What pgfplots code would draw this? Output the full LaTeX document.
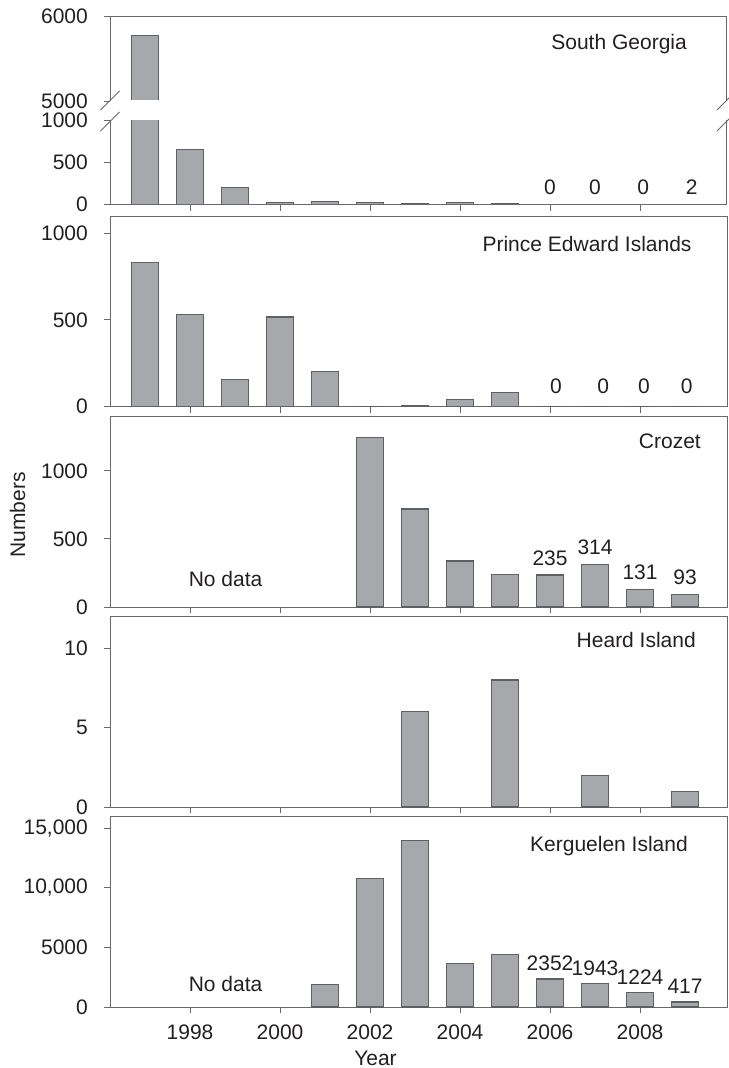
\documentclass[border=0pt]{standalone}
\usepackage{fontspec}
\setmainfont{Liberation Sans}
\usepackage{pgfplots}
\pgfplotsset{compat=1.18}
\definecolor{barfill}{RGB}{166,168,171}
\definecolor{baredge}{RGB}{95,96,99}
\definecolor{axgray}{RGB}{105,105,105}
\definecolor{txt}{RGB}{35,31,32}
\newcommand{\ff}{\fontsize{21bp}{25bp}\selectfont}
\pgfplotsset{
  panel/.style={
    scale only axis, width=617bp, anchor=south west,
    xmin=1996.222, xmax=2009.933,
    ymin=0,
    axis line style={draw=axgray, line width=1bp},
    every tick/.style={draw=axgray, line width=1bp},
    tick align=outside, major tick length=6bp,
    tick pos=left,
    scaled y ticks=false, scaled x ticks=false,
    xtick={1998,2000,2002,2004,2006,2008}, xticklabels={},
    font=\ff,
    /pgf/number format/assume math mode=true,
    every tick label/.append style={text=txt, font=\ff},
    yticklabel style={anchor=east, inner sep=0pt, xshift=-16bp},
    xticklabel style={anchor=north, inner sep=0pt, yshift=-12bp},
    clip=true,
  },
  bars/.style={ybar, bar shift=0pt, bar width=27bp, fill=barfill, draw=baredge, line width=1.2bp},
  labs/.style={only marks, mark=none, draw=none, nodes near coords, point meta=explicit symbolic,
    every node near coord/.style={font=\ff, text=txt, inner sep=0pt, anchor=south, yshift=#1}},
}
\begin{document}
\begin{tikzpicture}
% ---- South Georgia (broken axis) ----
\begin{axis}[panel, at={(110bp,-101bp)}, height=85bp, ymin=5000, ymax=6000,
  ytick={5000,6000}, yticklabels={5000,6000}, xtick=\empty, axis line style={draw=none}]
\addplot[bars] coordinates {(1997,5775)};
\end{axis}
\begin{axis}[panel, at={(110bp,-204.5bp)}, height=84.5bp, ymin=0, ymax=1000,
  ytick={0,500,1000}, yticklabels={0,500,1000}, axis line style={draw=none}]
\addplot[bars] coordinates {(1997,5775) (1998,650) (1999,205) (2000,24) (2001,35) (2002,24) (2003,10) (2004,24) (2005,15) (2006,0) (2007,0) (2008,0) (2009,2)};
\addplot[labs=10bp] coordinates {(2006,0) [0] (2007,0) [0] (2008.07,0) [0] (2009.15,2) [2]};
\end{axis}
\fill[white] (111bp,-100.2bp) rectangle (725bp,-119.6bp);
\draw[axgray, line width=1bp] (110bp,-101bp) -- (110bp,-16bp) -- (726.5bp,-16bp) -- (726.5bp,-101bp);
\draw[axgray, line width=1bp] (110bp,-120bp) -- (110bp,-204.5bp) -- (726.5bp,-204.5bp) -- (726.5bp,-120bp);
\foreach \xx in {110,726.5}{
  \draw[axgray, line width=1bp] (\xx bp-9.5bp,-110bp) -- (\xx bp+9.5bp,-91bp);
  \draw[axgray, line width=1bp] (\xx bp-9.5bp,-131bp) -- (\xx bp+9.5bp,-112bp);
}
\node[anchor=base east, font=\ff, text=txt, inner sep=0pt] at (687bp,-49bp) {South Georgia};
% ---- Prince Edward Islands ----
\begin{axis}[panel, at={(110bp,-406.5bp)}, height=190.5bp, ymax=1100,
  ytick={0,500,1000}, yticklabels={0,500,1000}]
\addplot[bars] coordinates {(1997,833) (1998,529) (1999,156) (2000,517) (2001,200) (2002,0) (2003,6) (2004,39) (2005,79) (2006,0) (2007,0) (2008,0) (2009,0)};
\addplot[labs=13bp] coordinates {(2006.13,0) [0] (2007.18,0) [0] (2008.09,0) [0] (2009.04,0) [0]};
\end{axis}
\node[anchor=base east, font=\ff, text=txt, inner sep=0pt] at (691.7bp,-251.7bp) {Prince Edward Islands};
% ---- Crozet ----
\begin{axis}[panel, at={(110bp,-607bp)}, height=190.5bp, ymax=1400,
  ytick={0,500,1000}, yticklabels={0,500,1000}]
\addplot[bars] coordinates {(2002,1245) (2003,720) (2004,338) (2005,240) (2006,235) (2007,314) (2008,131) (2009,93)};
\addplot[labs=9.5bp] coordinates {(2006,235) [235] (2007,314) [314] (2008,131) [131] (2009,93) [93]};
\end{axis}
\node[anchor=base east, font=\ff, text=txt, inner sep=0pt] at (701bp,-448bp) {Crozet};
\node[anchor=base, font=\ff, text=txt, inner sep=0pt] at (225.6bp,-586bp) {No data};
\node[anchor=base, rotate=90, font=\ff, text=txt, inner sep=0pt] at (25bp,-515bp) {Numbers};
% ---- Heard Island ----
\begin{axis}[panel, at={(110bp,-807bp)}, height=190.5bp, ymax=12,
  ytick={0,5,10}, yticklabels={0,5,10}]
\addplot[bars] coordinates {(2003,6) (2005,8) (2007,2) (2009,1)};
\end{axis}
\node[anchor=base east, font=\ff, text=txt, inner sep=0pt] at (696bp,-647bp) {Heard Island};
% ---- Kerguelen Island ----
\begin{axis}[panel, at={(110bp,-1007bp)}, height=190.5bp, ymax=16000,
  ytick={0,5000,10000,15000}, yticklabels={0,5000,{10,000},{15,000}},
  xticklabels={1998,2000,2002,2004,2006,2008}]
\addplot[bars] coordinates {(2001,1900) (2002,10800) (2003,14000) (2004,3650) (2005,4400) (2006,2352) (2007,1943) (2008,1224) (2009,417)};
\addplot[labs=8bp] coordinates {(2006,2352) [2352] (2007,1943) [1943] (2008,1224) [1224] (2009,417) [417]};
\end{axis}
\node[anchor=base east, font=\ff, text=txt, inner sep=0pt] at (688bp,-851bp) {Kerguelen Island};
\node[anchor=base, font=\ff, text=txt, inner sep=0pt] at (225.6bp,-991.7bp) {No data};
\node[anchor=base, font=\ff, text=txt, inner sep=0pt] at (375.5bp,-1065.7bp) {Year};
\pgfresetboundingbox
\useasboundingbox (0,0) rectangle (729bp,-1068bp);
\end{tikzpicture}
\end{document}
